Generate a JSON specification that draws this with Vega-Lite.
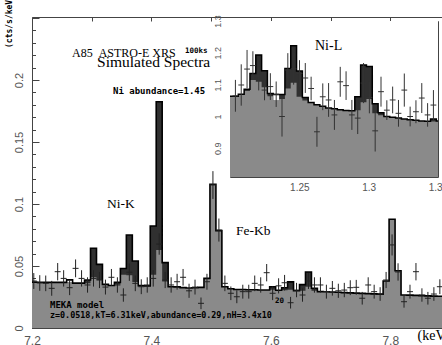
{
"$schema":"https://vega.github.io/schema/vega-lite/v6.json",
"width":418,"height":311,
"autosize":"none",
"padding":{"left":32,"top":17,"right":0,"bottom":17},
"background":"white",
"config":{"view":{"stroke":null},"axis":{"grid":false,"zindex":1,"labelFont":"Liberation Sans","labelColor":"#555","tickColor":"#444","domainColor":"#444","tickWidth":1,"domainWidth":1,"labelFlush":false,"labelOverlap":false,"labelBound":false}},
"datasets":{
"mm":[
{"e":7.198,"lo":0.037,"hi":0.037,"dk":0.037},
{"e":7.208,"lo":0.0369,"hi":0.0369,"dk":0.0369},
{"e":7.218,"lo":0.0369,"hi":0.0369,"dk":0.0369},
{"e":7.228,"lo":0.0368,"hi":0.0368,"dk":0.0368},
{"e":7.238,"lo":0.0368,"hi":0.0368,"dk":0.0368},
{"e":7.248,"lo":0.0368,"hi":0.0368,"dk":0.0368},
{"e":7.258,"lo":0.0366,"hi":0.0388,"dk":0.0366},
{"e":7.268,"lo":0.0362,"hi":0.0362,"dk":0.0362},
{"e":7.278,"lo":0.0362,"hi":0.0362,"dk":0.0362},
{"e":7.288,"lo":0.036,"hi":0.0387,"dk":0.0387},
{"e":7.298,"lo":0.041,"hi":0.0643,"dk":0.0643},
{"e":7.308,"lo":0.0387,"hi":0.0513,"dk":0.0513},
{"e":7.318,"lo":0.0352,"hi":0.0352,"dk":0.0352},
{"e":7.328,"lo":0.0343,"hi":0.0343,"dk":0.0343},
{"e":7.338,"lo":0.035,"hi":0.0368,"dk":0.0368},
{"e":7.348,"lo":0.043,"hi":0.048,"dk":0.048},
{"e":7.358,"lo":0.0425,"hi":0.075,"dk":0.075},
{"e":7.368,"lo":0.037,"hi":0.054,"dk":0.054},
{"e":7.378,"lo":0.0342,"hi":0.0342,"dk":0.0342},
{"e":7.388,"lo":0.034,"hi":0.034,"dk":0.034},
{"e":7.398,"lo":0.043,"hi":0.0823,"dk":0.0823},
{"e":7.408,"lo":0.063,"hi":0.1825,"dk":0.1825},
{"e":7.418,"lo":0.0374,"hi":0.0527,"dk":0.0527},
{"e":7.428,"lo":0.0333,"hi":0.0333,"dk":0.0333},
{"e":7.438,"lo":0.0332,"hi":0.0332,"dk":0.0332},
{"e":7.448,"lo":0.0326,"hi":0.0326,"dk":0.0326},
{"e":7.458,"lo":0.0322,"hi":0.0322,"dk":0.0322},
{"e":7.468,"lo":0.0324,"hi":0.0324,"dk":0.0324},
{"e":7.478,"lo":0.0328,"hi":0.0328,"dk":0.0328},
{"e":7.488,"lo":0.04,"hi":0.04,"dk":0.04},
{"e":7.498,"lo":0.1159,"hi":0.1159,"dk":0.1159},
{"e":7.508,"lo":0.0785,"hi":0.0785,"dk":0.0785},
{"e":7.518,"lo":0.0333,"hi":0.0333,"dk":0.0333},
{"e":7.528,"lo":0.0316,"hi":0.0316,"dk":0.0316},
{"e":7.538,"lo":0.0311,"hi":0.0311,"dk":0.0311},
{"e":7.548,"lo":0.031,"hi":0.031,"dk":0.031},
{"e":7.558,"lo":0.0308,"hi":0.0308,"dk":0.0308},
{"e":7.568,"lo":0.0308,"hi":0.0308,"dk":0.0308},
{"e":7.578,"lo":0.0306,"hi":0.0306,"dk":0.0306},
{"e":7.588,"lo":0.0306,"hi":0.0306,"dk":0.0306},
{"e":7.598,"lo":0.0308,"hi":0.0333,"dk":0.0333},
{"e":7.608,"lo":0.0305,"hi":0.0305,"dk":0.0305},
{"e":7.618,"lo":0.0305,"hi":0.0325,"dk":0.0325},
{"e":7.628,"lo":0.0308,"hi":0.0372,"dk":0.0372},
{"e":7.638,"lo":0.03,"hi":0.03,"dk":0.03},
{"e":7.648,"lo":0.03,"hi":0.035,"dk":0.035},
{"e":7.658,"lo":0.0333,"hi":0.0452,"dk":0.0452},
{"e":7.668,"lo":0.03,"hi":0.032,"dk":0.032},
{"e":7.678,"lo":0.0293,"hi":0.0293,"dk":0.0293},
{"e":7.688,"lo":0.0292,"hi":0.0292,"dk":0.0292},
{"e":7.698,"lo":0.029,"hi":0.029,"dk":0.029},
{"e":7.708,"lo":0.0288,"hi":0.0288,"dk":0.0288},
{"e":7.718,"lo":0.0285,"hi":0.0285,"dk":0.0285},
{"e":7.728,"lo":0.0283,"hi":0.0283,"dk":0.0283},
{"e":7.738,"lo":0.0281,"hi":0.0281,"dk":0.0281},
{"e":7.748,"lo":0.0279,"hi":0.0279,"dk":0.0279},
{"e":7.758,"lo":0.0277,"hi":0.0277,"dk":0.0277},
{"e":7.768,"lo":0.0275,"hi":0.0275,"dk":0.0275},
{"e":7.778,"lo":0.0273,"hi":0.0273,"dk":0.0273},
{"e":7.788,"lo":0.0379,"hi":0.0379,"dk":0.0379},
{"e":7.798,"lo":0.0877,"hi":0.0877,"dk":0.0877},
{"e":7.808,"lo":0.0462,"hi":0.0462,"dk":0.0462},
{"e":7.818,"lo":0.0266,"hi":0.0266,"dk":0.0266},
{"e":7.828,"lo":0.0265,"hi":0.0265,"dk":0.0265},
{"e":7.838,"lo":0.0263,"hi":0.0263,"dk":0.0263},
{"e":7.848,"lo":0.0261,"hi":0.0261,"dk":0.0261},
{"e":7.858,"lo":0.0259,"hi":0.0259,"dk":0.0259},
{"e":7.868,"lo":0.0257,"hi":0.0257,"dk":0.0257},
{"e":7.878,"lo":0.0256,"hi":0.0256,"dk":0.0256},
{"e":7.888,"lo":0.0255,"hi":0.0255,"dk":0.0255},
{"e":7.898,"lo":0.0255,"hi":0.0255,"dk":0.0255}
],
"mp":[
{"e":7.198,"e2":7.208,"c":7.203,"v":0.0379,"lo":0.0315,"hi":0.0443},
{"e":7.208,"e2":7.218,"c":7.213,"v":0.0363,"lo":0.03,"hi":0.0426},
{"e":7.218,"e2":7.228,"c":7.223,"v":0.036,"lo":0.0297,"hi":0.0423},
{"e":7.228,"e2":7.238,"c":7.233,"v":0.032,"lo":0.026,"hi":0.038},
{"e":7.238,"e2":7.248,"c":7.243,"v":0.0454,"lo":0.0384,"hi":0.0524},
{"e":7.248,"e2":7.258,"c":7.253,"v":0.04,"lo":0.0334,"hi":0.0466},
{"e":7.258,"e2":7.268,"c":7.263,"v":0.0325,"lo":0.0265,"hi":0.0385},
{"e":7.268,"e2":7.278,"c":7.273,"v":0.0481,"lo":0.0409,"hi":0.0553},
{"e":7.278,"e2":7.288,"c":7.283,"v":0.04,"lo":0.0334,"hi":0.0466},
{"e":7.288,"e2":7.298,"c":7.293,"v":0.0347,"lo":0.0285,"hi":0.0409},
{"e":7.298,"e2":7.308,"c":7.303,"v":0.04,"lo":0.0334,"hi":0.0466},
{"e":7.308,"e2":7.318,"c":7.313,"v":0.0387,"lo":0.0322,"hi":0.0452},
{"e":7.318,"e2":7.328,"c":7.323,"v":0.033,"lo":0.027,"hi":0.039},
{"e":7.328,"e2":7.338,"c":7.333,"v":0.0409,"lo":0.0342,"hi":0.0476},
{"e":7.338,"e2":7.348,"c":7.343,"v":0.0347,"lo":0.0285,"hi":0.0409},
{"e":7.348,"e2":7.358,"c":7.353,"v":0.0266,"lo":0.0212,"hi":0.032},
{"e":7.358,"e2":7.368,"c":7.363,"v":0.045,"lo":0.038,"hi":0.052},
{"e":7.368,"e2":7.378,"c":7.373,"v":0.036,"lo":0.0297,"hi":0.0423},
{"e":7.378,"e2":7.388,"c":7.383,"v":0.0333,"lo":0.0273,"hi":0.0393},
{"e":7.388,"e2":7.398,"c":7.393,"v":0.0347,"lo":0.0285,"hi":0.0409},
{"e":7.398,"e2":7.408,"c":7.403,"v":0.04,"lo":0.0334,"hi":0.0466},
{"e":7.408,"e2":7.418,"c":7.413,"v":0.0677,"lo":0.0591,"hi":0.0763},
{"e":7.418,"e2":7.428,"c":7.423,"v":0.0387,"lo":0.0322,"hi":0.0452},
{"e":7.428,"e2":7.438,"c":7.433,"v":0.0347,"lo":0.0285,"hi":0.0409},
{"e":7.438,"e2":7.448,"c":7.443,"v":0.0373,"lo":0.0309,"hi":0.0437},
{"e":7.448,"e2":7.458,"c":7.453,"v":0.0409,"lo":0.0342,"hi":0.0476},
{"e":7.458,"e2":7.468,"c":7.463,"v":0.03,"lo":0.0243,"hi":0.0357},
{"e":7.468,"e2":7.478,"c":7.473,"v":0.033,"lo":0.027,"hi":0.039},
{"e":7.478,"e2":7.488,"c":7.483,"v":0.0199,"lo":0.0152,"hi":0.0246},
{"e":7.488,"e2":7.498,"c":7.493,"v":0.0373,"lo":0.0309,"hi":0.0437},
{"e":7.498,"e2":7.508,"c":7.503,"v":0.1153,"lo":0.1041,"hi":0.1265},
{"e":7.508,"e2":7.518,"c":7.513,"v":0.079,"lo":0.0697,"hi":0.0883},
{"e":7.518,"e2":7.528,"c":7.523,"v":0.036,"lo":0.0297,"hi":0.0423},
{"e":7.528,"e2":7.538,"c":7.533,"v":0.028,"lo":0.0225,"hi":0.0335},
{"e":7.538,"e2":7.548,"c":7.543,"v":0.0252,"lo":0.02,"hi":0.0304},
{"e":7.548,"e2":7.558,"c":7.553,"v":0.0293,"lo":0.0237,"hi":0.0349},
{"e":7.558,"e2":7.568,"c":7.563,"v":0.0293,"lo":0.0237,"hi":0.0349},
{"e":7.568,"e2":7.578,"c":7.573,"v":0.036,"lo":0.0297,"hi":0.0423},
{"e":7.578,"e2":7.588,"c":7.583,"v":0.0347,"lo":0.0285,"hi":0.0409},
{"e":7.588,"e2":7.598,"c":7.593,"v":0.0446,"lo":0.0376,"hi":0.0516},
{"e":7.598,"e2":7.608,"c":7.603,"v":0.028,"lo":0.0225,"hi":0.0335},
{"e":7.608,"e2":7.618,"c":7.613,"v":0.034,"lo":0.0279,"hi":0.0401},
{"e":7.618,"e2":7.628,"c":7.623,"v":0.0365,"lo":0.0302,"hi":0.0428},
{"e":7.628,"e2":7.638,"c":7.633,"v":0.0204,"lo":0.0157,"hi":0.0251},
{"e":7.638,"e2":7.648,"c":7.643,"v":0.0306,"lo":0.0248,"hi":0.0364},
{"e":7.648,"e2":7.658,"c":7.653,"v":0.0266,"lo":0.0212,"hi":0.032},
{"e":7.658,"e2":7.668,"c":7.663,"v":0.0379,"lo":0.0315,"hi":0.0443},
{"e":7.668,"e2":7.678,"c":7.673,"v":0.0347,"lo":0.0285,"hi":0.0409},
{"e":7.678,"e2":7.688,"c":7.683,"v":0.0347,"lo":0.0285,"hi":0.0409},
{"e":7.688,"e2":7.698,"c":7.693,"v":0.0293,"lo":0.0237,"hi":0.0349},
{"e":7.698,"e2":7.708,"c":7.703,"v":0.032,"lo":0.0261,"hi":0.0379},
{"e":7.708,"e2":7.718,"c":7.713,"v":0.03,"lo":0.0243,"hi":0.0357},
{"e":7.718,"e2":7.728,"c":7.723,"v":0.0306,"lo":0.0248,"hi":0.0364},
{"e":7.728,"e2":7.738,"c":7.733,"v":0.0325,"lo":0.0265,"hi":0.0385},
{"e":7.738,"e2":7.748,"c":7.743,"v":0.0328,"lo":0.0268,"hi":0.0388},
{"e":7.748,"e2":7.758,"c":7.753,"v":0.024,"lo":0.0189,"hi":0.0291},
{"e":7.758,"e2":7.768,"c":7.763,"v":0.0347,"lo":0.0285,"hi":0.0409},
{"e":7.768,"e2":7.778,"c":7.773,"v":0.0293,"lo":0.0237,"hi":0.0349},
{"e":7.778,"e2":7.788,"c":7.783,"v":0.0274,"lo":0.0219,"hi":0.0329},
{"e":7.788,"e2":7.798,"c":7.793,"v":0.0387,"lo":0.0322,"hi":0.0452},
{"e":7.798,"e2":7.808,"c":7.803,"v":0.067,"lo":0.0585,"hi":0.0755},
{"e":7.808,"e2":7.818,"c":7.813,"v":0.0452,"lo":0.0382,"hi":0.0522},
{"e":7.818,"e2":7.828,"c":7.823,"v":0.0212,"lo":0.0164,"hi":0.026},
{"e":7.828,"e2":7.838,"c":7.833,"v":0.0293,"lo":0.0237,"hi":0.0349},
{"e":7.838,"e2":7.848,"c":7.843,"v":0.0454,"lo":0.0384,"hi":0.0524},
{"e":7.848,"e2":7.858,"c":7.853,"v":0.0266,"lo":0.0212,"hi":0.032},
{"e":7.858,"e2":7.868,"c":7.863,"v":0.024,"lo":0.0189,"hi":0.0291},
{"e":7.868,"e2":7.878,"c":7.873,"v":0.0274,"lo":0.0219,"hi":0.0329},
{"e":7.878,"e2":7.888,"c":7.883,"v":0.0333,"lo":0.0273,"hi":0.0393}
],
"serifA":[
{"x":7.267,"y":0.2183,"t":"A85\u00a0\u00a0ASTRO-E XRS"}
],
"serifB":[
{"x":7.3089,"y":0.2102,"t":"Simulated Spectra"}
],
"serif":[
{"x":7.3256,"y":0.0965,"t":"Ni-K"},
{"x":7.5417,"y":0.075,"t":"Fe-Kb"}
],
"mono9":[
{"x":7.3357,"y":0.1887,"t":"Ni abundance=1.45"},
{"x":7.2301,"y":0.0159,"t":"MEKA model"}
],
"mono85":[
{"x":7.2301,"y":0.0078,"t":"z=0.0518,kT=6.31keV,abundance=0.29,nH=3.4x10"}
],
"mono75":[
{"x":7.4562,"y":0.2215,"t":"100ks"},
{"x":7.607,"y":0.0199,"t":"20"}
],
"ifr":[{"x0":1.2,"x1":1.35,"y0":0.81,"y1":1.3}],
"im":[
{"e":1.2,"lo":1.064,"hi":1.064,"dk":1.064},
{"e":1.2018,"lo":1.064,"hi":1.064,"dk":1.064},
{"e":1.206,"lo":1.07,"hi":1.07,"dk":1.07},
{"e":1.2102,"lo":1.08,"hi":1.086,"dk":1.086},
{"e":1.2144,"lo":1.115,"hi":1.135,"dk":1.135},
{"e":1.2186,"lo":1.109,"hi":1.193,"dk":1.193},
{"e":1.2228,"lo":1.092,"hi":1.144,"dk":1.144},
{"e":1.227,"lo":1.064,"hi":1.072,"dk":1.072},
{"e":1.2312,"lo":1.05,"hi":1.069,"dk":1.05},
{"e":1.2354,"lo":1.055,"hi":1.069,"dk":1.069},
{"e":1.2396,"lo":1.088,"hi":1.151,"dk":1.151},
{"e":1.2438,"lo":1.106,"hi":1.222,"dk":1.222},
{"e":1.248,"lo":1.062,"hi":1.143,"dk":1.143},
{"e":1.2522,"lo":1.05,"hi":1.06,"dk":1.06},
{"e":1.2564,"lo":1.044,"hi":1.044,"dk":1.044},
{"e":1.2606,"lo":1.037,"hi":1.037,"dk":1.037},
{"e":1.2648,"lo":1.032,"hi":1.032,"dk":1.032},
{"e":1.269,"lo":1.027,"hi":1.027,"dk":1.027},
{"e":1.2732,"lo":1.024,"hi":1.024,"dk":1.024},
{"e":1.2774,"lo":1.021,"hi":1.021,"dk":1.021},
{"e":1.2816,"lo":1.019,"hi":1.019,"dk":1.019},
{"e":1.2858,"lo":1.018,"hi":1.018,"dk":1.018},
{"e":1.29,"lo":1.02,"hi":1.062,"dk":1.062},
{"e":1.2942,"lo":1.045,"hi":1.162,"dk":1.162},
{"e":1.2984,"lo":1.055,"hi":1.157,"dk":1.157},
{"e":1.3026,"lo":1.01,"hi":1.04,"dk":1.04},
{"e":1.3068,"lo":1.004,"hi":1.012,"dk":1.012},
{"e":1.311,"lo":1.0,"hi":1.0,"dk":1.0},
{"e":1.3152,"lo":0.998,"hi":0.998,"dk":0.998},
{"e":1.3194,"lo":0.995,"hi":0.995,"dk":0.995},
{"e":1.3236,"lo":0.992,"hi":0.992,"dk":0.992},
{"e":1.3278,"lo":0.99,"hi":0.99,"dk":0.99},
{"e":1.332,"lo":0.988,"hi":0.988,"dk":0.988},
{"e":1.3362,"lo":0.986,"hi":0.986,"dk":0.986},
{"e":1.3404,"lo":0.985,"hi":0.985,"dk":0.985},
{"e":1.3446,"lo":0.984,"hi":0.992,"dk":0.992},
{"e":1.3488,"lo":0.986,"hi":0.986,"dk":0.986},
{"e":1.35,"lo":0.986,"hi":0.986,"dk":0.986}
],
"ip":[
{"e":1.2018,"e2":1.206,"c":1.2039,"v":1.065,"lo":1.015,"hi":1.115},
{"e":1.206,"e2":1.2102,"c":1.2081,"v":1.099,"lo":1.034,"hi":1.164},
{"e":1.2102,"e2":1.2144,"c":1.2123,"v":1.149,"lo":1.089,"hi":1.209},
{"e":1.2144,"e2":1.2186,"c":1.2165,"v":1.16,"lo":1.115,"hi":1.205},
{"e":1.2186,"e2":1.2228,"c":1.2207,"v":1.127,"lo":1.082,"hi":1.172},
{"e":1.2228,"e2":1.227,"c":1.2249,"v":1.083,"lo":1.051,"hi":1.115},
{"e":1.227,"e2":1.2312,"c":1.2291,"v":1.094,"lo":1.052,"hi":1.136},
{"e":1.2312,"e2":1.2354,"c":1.2333,"v":1.07,"lo":1.03,"hi":1.11},
{"e":1.2354,"e2":1.2396,"c":1.2375,"v":1.0,"lo":0.937,"hi":1.063},
{"e":1.2396,"e2":1.2438,"c":1.2417,"v":1.146,"lo":1.093,"hi":1.199},
{"e":1.2438,"e2":1.248,"c":1.2459,"v":1.15,"lo":1.1,"hi":1.2},
{"e":1.248,"e2":1.2522,"c":1.2501,"v":1.135,"lo":1.093,"hi":1.177},
{"e":1.2522,"e2":1.2564,"c":1.2543,"v":1.121,"lo":1.074,"hi":1.168},
{"e":1.2564,"e2":1.2606,"c":1.2585,"v":1.088,"lo":1.051,"hi":1.125},
{"e":1.2606,"e2":1.2648,"c":1.2627,"v":0.952,"lo":0.905,"hi":0.999},
{"e":1.2648,"e2":1.269,"c":1.2669,"v":1.062,"lo":1.02,"hi":1.104},
{"e":1.269,"e2":1.2732,"c":1.2711,"v":1.052,"lo":0.999,"hi":1.105},
{"e":1.2732,"e2":1.2774,"c":1.2753,"v":1.005,"lo":0.958,"hi":1.052},
{"e":1.2774,"e2":1.2816,"c":1.2795,"v":1.109,"lo":1.062,"hi":1.156},
{"e":1.2816,"e2":1.2858,"c":1.2837,"v":1.097,"lo":1.052,"hi":1.142},
{"e":1.2858,"e2":1.29,"c":1.2879,"v":1.005,"lo":0.958,"hi":1.052},
{"e":1.29,"e2":1.2942,"c":1.2921,"v":0.995,"lo":0.945,"hi":1.045},
{"e":1.2942,"e2":1.2984,"c":1.2963,"v":1.105,"lo":1.042,"hi":1.168},
{"e":1.2984,"e2":1.3026,"c":1.3005,"v":1.06,"lo":1.01,"hi":1.11},
{"e":1.3026,"e2":1.3068,"c":1.3047,"v":0.955,"lo":0.89,"hi":1.02},
{"e":1.3068,"e2":1.311,"c":1.3089,"v":1.078,"lo":1.031,"hi":1.125},
{"e":1.311,"e2":1.3152,"c":1.3131,"v":1.02,"lo":0.989,"hi":1.051},
{"e":1.3152,"e2":1.3194,"c":1.3173,"v":1.052,"lo":1.01,"hi":1.094},
{"e":1.3194,"e2":1.3236,"c":1.3215,"v":1.01,"lo":0.968,"hi":1.052},
{"e":1.3236,"e2":1.3278,"c":1.3257,"v":1.083,"lo":1.031,"hi":1.135},
{"e":1.3278,"e2":1.332,"c":1.3299,"v":1.0,"lo":0.969,"hi":1.031},
{"e":1.332,"e2":1.3362,"c":1.3341,"v":1.015,"lo":0.979,"hi":1.051},
{"e":1.3362,"e2":1.3404,"c":1.3383,"v":1.058,"lo":1.011,"hi":1.105},
{"e":1.3404,"e2":1.3446,"c":1.3425,"v":1.005,"lo":0.968,"hi":1.042},
{"e":1.3446,"e2":1.3488,"c":1.3467,"v":1.036,"lo":0.989,"hi":1.083}
],
"itext":[{"x":1.2613,"y":1.209,"t":"Ni-L"}]
},
"resolve":{"scale":{"x":"independent","y":"independent"},"axis":{"x":"independent","y":"independent"}},
"layer":[
{"data":{"name":"mm"},"mark":{"type":"area","interpolate":"step-after","color":"#303030","clip":true},
 "encoding":{
  "x":{"field":"e","type":"quantitative","scale":{"domain":[7.2,7.9],"nice":false,"zero":false},
   "axis":{"orient":"bottom","values":[7.2,7.4,7.6,7.8],"ticks":false,"domain":true,"labelPadding":7,"labelFontSize":12,"labelExpr":"format(datum.value,'~g')","title":"(keV)","titleFont":"Liberation Serif","titleFontSize":14,"titleFontWeight":"normal","titleColor":"#000","titleX":385,"titleY":11,"titleAlign":"left","titleBaseline":"alphabetic","titleAngle":0}},
  "y":{"field":"dk","type":"quantitative","scale":{"domain":[0,0.2508],"nice":false,"zero":false},"axis":null}}},
{"data":{"name":"mm"},"mark":{"type":"area","interpolate":"step-after","color":"#8a8a8a","clip":true},
 "encoding":{
  "x":{"field":"e","type":"quantitative","scale":{"domain":[7.2,7.9],"nice":false,"zero":false},
   "axis":{"orient":"bottom","values":[7.2,7.3,7.4,7.5,7.6,7.7,7.8,7.9],"labels":false,"domain":false,"tickSize":-4,"title":null}},
  "y":{"field":"lo","type":"quantitative","scale":{"domain":[0,0.2508],"nice":false,"zero":false},"axis":null}}},
{"data":{"name":"mm"},"mark":{"type":"line","interpolate":"step-after","color":"#000","strokeWidth":1.6,"clip":true},
 "encoding":{
  "x":{"field":"e","type":"quantitative","scale":{"domain":[7.2,7.9],"nice":false,"zero":false},
   "axis":{"orient":"top","values":[7.2,7.3,7.4,7.5,7.6,7.7,7.8,7.9],"labels":false,"domain":true,"tickSize":-4,"title":null}},
  "y":{"field":"hi","type":"quantitative","scale":{"domain":[0,0.2508],"nice":false,"zero":false},
   "axis":{"orient":"left","values":[0,0.05,0.1,0.15,0.2],"ticks":false,"domain":true,"labelAngle":-90,"labelAlign":"center","labelBaseline":"bottom","labelPadding":8,"labelFontSize":11,"labelExpr":"format(datum.value,'~g')","title":"(cts/s/keV)","titleFont":"DejaVu Sans Mono","titleFontSize":8,"titleFontWeight":"bold","titleColor":"#000","titleX":-23,"titleY":4,"titleAngle":-90,"titleAlign":"center","titleBaseline":"middle"}}}},
{"data":{"name":"mp"},"mark":{"type":"rule","color":"#222","strokeWidth":1,"clip":true},
 "encoding":{
  "x":{"field":"e","type":"quantitative","scale":{"domain":[7.2,7.9],"nice":false,"zero":false},"axis":null},
  "x2":{"field":"e2"},
  "y":{"field":"v","type":"quantitative","scale":{"domain":[0,0.2508],"nice":false,"zero":false},
   "axis":{"orient":"left","values":[0,0.05,0.1,0.15,0.2,0.25],"labels":false,"domain":false,"tickSize":-7,"title":null}}}},
{"data":{"name":"mp"},"mark":{"type":"rule","color":"#222","strokeWidth":1,"clip":true},
 "encoding":{
  "x":{"field":"c","type":"quantitative","scale":{"domain":[7.2,7.9],"nice":false,"zero":false},"axis":null},
  "y":{"field":"lo","type":"quantitative","scale":{"domain":[0,0.2508],"nice":false,"zero":false},
   "axis":{"orient":"left","values":[0,0.01,0.02,0.03,0.04,0.05,0.06,0.07,0.08,0.09,0.1,0.11,0.12,0.13,0.14,0.15,0.16,0.17,0.18,0.19,0.2,0.21,0.22,0.23,0.24,0.25],"labels":false,"domain":false,"tickSize":-3.5,"title":null}},
  "y2":{"field":"hi"}}},
{"data":{"name":"serifA"},"mark":{"type":"text","font":"Liberation Serif","fontSize":12,"align":"left","baseline":"alphabetic","color":"#000"},
 "encoding":{
  "x":{"field":"x","type":"quantitative","scale":{"domain":[7.2,7.9],"nice":false,"zero":false},"axis":null},
  "y":{"field":"y","type":"quantitative","scale":{"domain":[0,0.2508],"nice":false,"zero":false},"axis":null},
  "text":{"field":"t"}}},
{"data":{"name":"serifB"},"mark":{"type":"text","font":"Liberation Serif","fontSize":15.5,"align":"left","baseline":"alphabetic","color":"#000"},
 "encoding":{
  "x":{"field":"x","type":"quantitative","scale":{"domain":[7.2,7.9],"nice":false,"zero":false},"axis":null},
  "y":{"field":"y","type":"quantitative","scale":{"domain":[0,0.2508],"nice":false,"zero":false},"axis":null},
  "text":{"field":"t"}}},
{"data":{"name":"serif"},"mark":{"type":"text","font":"Liberation Serif","fontSize":13.5,"align":"left","baseline":"alphabetic","color":"#000"},
 "encoding":{
  "x":{"field":"x","type":"quantitative","scale":{"domain":[7.2,7.9],"nice":false,"zero":false},"axis":null},
  "y":{"field":"y","type":"quantitative","scale":{"domain":[0,0.2508],"nice":false,"zero":false},"axis":null},
  "text":{"field":"t"}}},
{"data":{"name":"mono9"},"mark":{"type":"text","font":"DejaVu Sans Mono","fontSize":9,"fontWeight":"bold","align":"left","baseline":"alphabetic","color":"#000"},
 "encoding":{
  "x":{"field":"x","type":"quantitative","scale":{"domain":[7.2,7.9],"nice":false,"zero":false},"axis":null},
  "y":{"field":"y","type":"quantitative","scale":{"domain":[0,0.2508],"nice":false,"zero":false},"axis":null},
  "text":{"field":"t"}}},
{"data":{"name":"mono85"},"mark":{"type":"text","font":"DejaVu Sans Mono","fontSize":8.4,"fontWeight":"bold","align":"left","baseline":"alphabetic","color":"#000"},
 "encoding":{
  "x":{"field":"x","type":"quantitative","scale":{"domain":[7.2,7.9],"nice":false,"zero":false},"axis":null},
  "y":{"field":"y","type":"quantitative","scale":{"domain":[0,0.2508],"nice":false,"zero":false},"axis":null},
  "text":{"field":"t"}}},
{"data":{"name":"mono75"},"mark":{"type":"text","font":"DejaVu Sans Mono","fontSize":7.5,"fontWeight":"bold","align":"left","baseline":"alphabetic","color":"#000"},
 "encoding":{
  "x":{"field":"x","type":"quantitative","scale":{"domain":[7.2,7.9],"nice":false,"zero":false},"axis":null},
  "y":{"field":"y","type":"quantitative","scale":{"domain":[0,0.2508],"nice":false,"zero":false},"axis":null},
  "text":{"field":"t"}}},
{"data":{"name":"ifr"},"mark":{"type":"rect","fill":"#ffffff","strokeWidth":0},
 "encoding":{
  "x":{"field":"x0","type":"quantitative","scale":{"domain":[1.2,1.35],"range":[198,406],"nice":false,"zero":false},
   "axis":{"orient":"bottom","offset":-151,"values":[1.25,1.3,1.35],"ticks":false,"domain":true,"labelPadding":5,"labelFontSize":10,"labelExpr":"format(datum.value,'~g')","title":null}},
  "x2":{"field":"x1"},
  "y":{"field":"y0","type":"quantitative","scale":{"domain":[0.81,1.3],"range":[160,4],"nice":false,"zero":false},
   "axis":{"orient":"left","offset":-198,"values":[0.9,1,1.1,1.2,1.3],"ticks":false,"domain":true,"labelAngle":-90,"labelAlign":"center","labelBaseline":"bottom","labelPadding":8,"labelFontSize":9,"labelExpr":"format(datum.value,'~g')","title":null}},
  "y2":{"field":"y1"}}},
{"data":{"name":"im"},"mark":{"type":"area","interpolate":"step-after","color":"#303030"},
 "encoding":{
  "x":{"field":"e","type":"quantitative","scale":{"domain":[1.2,1.35],"range":[198,406],"nice":false,"zero":false},
   "axis":{"orient":"bottom","offset":-151,"values":[1.25,1.3],"labels":false,"domain":false,"tickSize":-5,"title":null}},
  "y":{"field":"dk","type":"quantitative","scale":{"domain":[0.81,1.3],"range":[160,4],"nice":false,"zero":false},
   "axis":{"orient":"left","offset":-198,"values":[0.9,1,1.1,1.2],"labels":false,"domain":false,"tickSize":-5,"title":null}},
  "y2":{"datum":0.81}}},
{"data":{"name":"im"},"mark":{"type":"area","interpolate":"step-after","color":"#8a8a8a"},
 "encoding":{
  "x":{"field":"e","type":"quantitative","scale":{"domain":[1.2,1.35],"range":[198,406],"nice":false,"zero":false},
   "axis":{"orient":"bottom","offset":-151,"values":[1.21,1.22,1.23,1.24,1.26,1.27,1.28,1.29,1.31,1.32,1.33,1.34],"labels":false,"domain":false,"tickSize":-3,"title":null}},
  "y":{"field":"lo","type":"quantitative","scale":{"domain":[0.81,1.3],"range":[160,4],"nice":false,"zero":false},
   "axis":{"orient":"left","offset":-198,"values":[0.825,0.85,0.875,0.925,0.95,0.975,1.025,1.05,1.075,1.125,1.15,1.175,1.225,1.25,1.275],"labels":false,"domain":false,"tickSize":-3,"title":null}},
  "y2":{"datum":0.81}}},
{"data":{"name":"im"},"mark":{"type":"line","interpolate":"step-after","color":"#000","strokeWidth":1.5},
 "encoding":{
  "x":{"field":"e","type":"quantitative","scale":{"domain":[1.2,1.35],"range":[198,406],"nice":false,"zero":false},
   "axis":{"orient":"top","offset":-4,"values":[1.21,1.22,1.23,1.24,1.25,1.26,1.27,1.28,1.29,1.3,1.31,1.32,1.33,1.34],"labels":false,"domain":true,"tickSize":-3,"title":null}},
  "y":{"field":"hi","type":"quantitative","scale":{"domain":[0.81,1.3],"range":[160,4],"nice":false,"zero":false},
   "axis":{"orient":"right","offset":-12,"values":[0.825,0.85,0.875,0.9,0.925,0.95,0.975,1,1.025,1.05,1.075,1.1,1.125,1.15,1.175,1.2,1.225,1.25,1.275],"labels":false,"domain":true,"tickSize":-3,"title":null}}}},
{"data":{"name":"ip"},"mark":{"type":"rule","color":"#333","strokeWidth":1},
 "encoding":{
  "x":{"field":"e","type":"quantitative","scale":{"domain":[1.2,1.35],"range":[198,406],"nice":false,"zero":false},"axis":null},
  "x2":{"field":"e2"},
  "y":{"field":"v","type":"quantitative","scale":{"domain":[0.81,1.3],"range":[160,4],"nice":false,"zero":false},"axis":null}}},
{"data":{"name":"ip"},"mark":{"type":"rule","color":"#333","strokeWidth":1},
 "encoding":{
  "x":{"field":"c","type":"quantitative","scale":{"domain":[1.2,1.35],"range":[198,406],"nice":false,"zero":false},"axis":null},
  "y":{"field":"lo","type":"quantitative","scale":{"domain":[0.81,1.3],"range":[160,4],"nice":false,"zero":false},"axis":null},
  "y2":{"field":"hi"}}},
{"data":{"name":"itext"},"mark":{"type":"text","font":"Liberation Serif","fontSize":14,"align":"left","baseline":"alphabetic","color":"#000"},
 "encoding":{
  "x":{"field":"x","type":"quantitative","scale":{"domain":[1.2,1.35],"range":[198,406],"nice":false,"zero":false},"axis":null},
  "y":{"field":"y","type":"quantitative","scale":{"domain":[0.81,1.3],"range":[160,4],"nice":false,"zero":false},"axis":null},
  "text":{"field":"t"}}}
]
}
